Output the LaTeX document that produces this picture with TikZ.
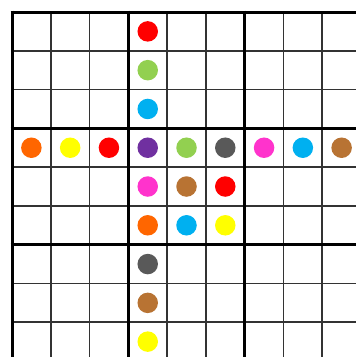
\documentclass[tikz,border=0pt]{standalone}
\begin{document}
\begin{tikzpicture}[x=1pt,y=-1pt,
  thinline/.style={line width=1.6pt,draw=black!80},
  thickline/.style={line width=3pt,draw=black},
  dot/.style={circle,inner sep=0pt,minimum size=20.5pt,fill=#1,draw=none}]
\definecolor{cred}{RGB}{255,0,0}
\definecolor{cgreen}{RGB}{146,208,80}
\definecolor{cblue}{RGB}{0,176,240}
\definecolor{corange}{RGB}{255,102,0}
\definecolor{cyellow}{RGB}{255,255,0}
\definecolor{cpurple}{RGB}{112,48,160}
\definecolor{cgray}{RGB}{89,89,89}
\definecolor{cmagenta}{RGB}{255,51,204}
\definecolor{cbrown}{RGB}{184,115,51}
\useasboundingbox (0,0) rectangle (356,357);
\fill[white] (0,0) rectangle (356,357);
\begin{scope}
\clip (0,0) rectangle (356,357);
\def\cs{38.78}
\foreach \i in {1,2,4,5,7,8} {
  \draw[thinline] ({12+\i*\cs},12) -- ({12+\i*\cs},370);
  \draw[thinline] (12,{12+\i*\cs}) -- (370,{12+\i*\cs});
}
\foreach \i in {0,3,6,9} {
  \draw[thickline] ({12+\i*\cs},10.5) -- ({12+\i*\cs},370);
  \draw[thickline] (10.5,{12+\i*\cs}) -- (370,{12+\i*\cs});
}
\end{scope}
\def\cx#1{({12+(#1+0.5)*38.78})}
% column 3
\node[dot=cred]     (c0) at ({12+3.5*38.78},{12+0.5*38.78}) {};
\node[dot=cgreen]   (c1) at ({12+3.5*38.78},{12+1.5*38.78}) {};
\node[dot=cblue]    (c2) at ({12+3.5*38.78},{12+2.5*38.78}) {};
\node[dot=cpurple]  (c3) at ({12+3.5*38.78},{12+3.5*38.78}) {};
\node[dot=cmagenta] (c4) at ({12+3.5*38.78},{12+4.5*38.78}) {};
\node[dot=corange]  (c5) at ({12+3.5*38.78},{12+5.5*38.78}) {};
\node[dot=cgray]    (c6) at ({12+3.5*38.78},{12+6.5*38.78}) {};
\node[dot=cbrown]   (c7) at ({12+3.5*38.78},{12+7.5*38.78}) {};
\node[dot=cyellow]  (c8) at ({12+3.5*38.78},{12+8.5*38.78}) {};
% row 3
\node[dot=corange]  (r0) at ({12+0.5*38.78},{12+3.5*38.78}) {};
\node[dot=cyellow]  (r1) at ({12+1.5*38.78},{12+3.5*38.78}) {};
\node[dot=cred]     (r2) at ({12+2.5*38.78},{12+3.5*38.78}) {};
\node[dot=cgreen]   (r4) at ({12+4.5*38.78},{12+3.5*38.78}) {};
\node[dot=cgray]    (r5) at ({12+5.5*38.78},{12+3.5*38.78}) {};
\node[dot=cmagenta] (r6) at ({12+6.5*38.78},{12+3.5*38.78}) {};
\node[dot=cblue]    (r7) at ({12+7.5*38.78},{12+3.5*38.78}) {};
\node[dot=cbrown]   (r8) at ({12+8.5*38.78},{12+3.5*38.78}) {};
% box
\node[dot=cbrown]   (b1) at ({12+4.5*38.78},{12+4.5*38.78}) {};
\node[dot=cred]     (b2) at ({12+5.5*38.78},{12+4.5*38.78}) {};
\node[dot=cblue]    (b3) at ({12+4.5*38.78},{12+5.5*38.78}) {};
\node[dot=cyellow]  (b4) at ({12+5.5*38.78},{12+5.5*38.78}) {};
\end{tikzpicture}
\end{document}
